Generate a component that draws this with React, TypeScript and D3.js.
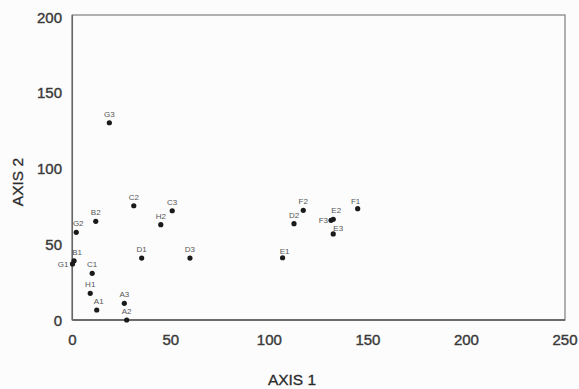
import React from "react";
import * as d3 from "d3";

const labels = ["G3","C2","C3","B2","H2","G2","B1","G1","D1","D3","E1","C1","H1","A1","A3","A2","D2","F2","F1","E2","F3","E3"];
const axis1 = [18.8,31.2,50.7,11.9,44.9,2.0,0.9,0.1,35.2,59.7,106.7,10.1,9.1,12.4,26.4,27.6,112.5,117.2,144.8,132.4,131.3,132.4];
const axis2 = [130.2,75.4,72.1,65.1,62.9,57.9,39.1,37.0,40.9,40.9,41.1,30.8,17.6,6.6,11.0,0.0,63.6,72.4,73.5,66.5,65.8,56.8];
const xTicks = [0, 50, 100, 150, 200, 250];
const yTicks = [0, 50, 100, 150, 200];

// label placement (offsets in px relative to the point)
const labelOffset: Record<string, [number, number, string]> = {
  G1: [-4, 3, "end"],
  F3: [-3, 3, "end"],
  B1: [3, -6, "middle"],
  G2: [2, -6, "middle"],
  E2: [3, -6, "middle"],
  E3: [5, -3, "middle"],
  E1: [2, -4, "middle"],
  F1: [-2, -5, "middle"],
  A1: [2, -6, "middle"],
};

export default function App() {
  const W = 579, H = 389;
  const x = d3.scaleLinear().domain([0, 250]).range([72.3, 565]);
  const y = d3.scaleLinear().domain([0, 200]).range([320, 17]);
  const tickColor = "#3a3a3a";
  return (
    <svg width={W} height={H} style={{ position: "absolute", left: 0, top: 0, background: "#fcfcfc" }}
      fontFamily="'Liberation Sans', Arial, sans-serif">
      <rect x={x(0)} y={15} width={x(250) - x(0)} height={320 - 15} fill="none" stroke="#888" strokeWidth={1.3} />
      <line x1={x(0)} x2={x(250)} y1={320} y2={320} stroke="#555" strokeWidth={1.6} />
      <line x1={x(0)} x2={x(0)} y1={15} y2={320} stroke="#666" strokeWidth={1.5} />
      {yTicks.map((t) => (
        <text key={"y" + t} x={62} y={y(t) + 5.5} textAnchor="end" fontSize={15} fill={tickColor} stroke={tickColor} strokeWidth={0.4}>{t}</text>
      ))}
      {xTicks.map((t) => (
        <text key={"x" + t} x={x(t)} y={345} textAnchor="middle" fontSize={15} fill={tickColor} stroke={tickColor} strokeWidth={0.4}>{t}</text>
      ))}
      <text x={292} y={385} textAnchor="middle" fontSize={15.5} fill="#2a2a2a" stroke="#2a2a2a" strokeWidth={0.3}>AXIS 1</text>
      <text transform={`translate(23,182) rotate(-90)`} textAnchor="middle" fontSize={15.5} fill="#2a2a2a" stroke="#2a2a2a" strokeWidth={0.3}>AXIS 2</text>
      {labels.map((l, i) => {
        const px = x(axis1[i]), py = y(axis2[i]);
        const off = labelOffset[l] || [0, -6, "middle"];
        return (
          <g key={l}>
            <circle cx={px} cy={py} r={2.6} fill="#1a1a1a" />
            <text x={px + off[0]} y={py + off[1]} textAnchor={off[2] as any} fontSize={8} fill="#555">{l}</text>
          </g>
        );
      })}
    </svg>
  );
}
